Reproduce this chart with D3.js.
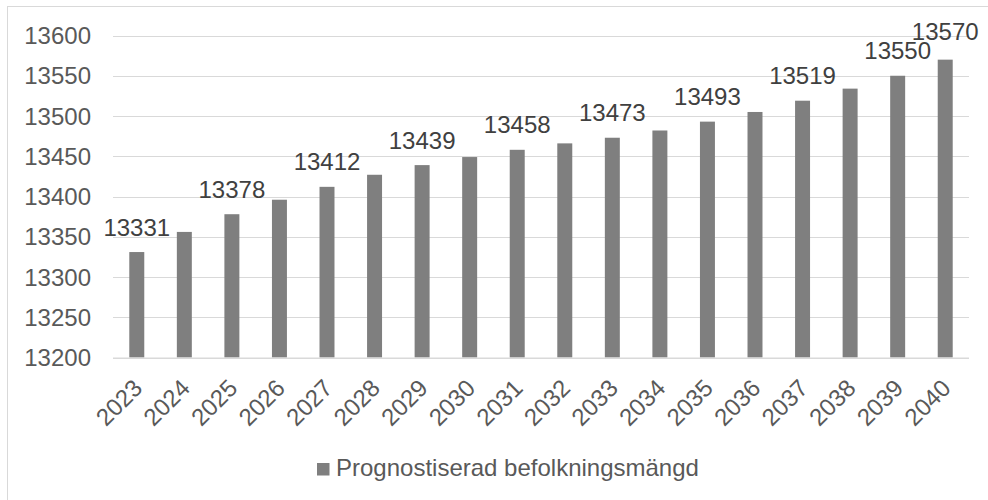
<!DOCTYPE html>
<html>
<head>
<meta charset="utf-8">
<script src="https://cdn.jsdelivr.net/npm/d3@7/dist/d3.min.js"></script>
<style>
  html, body { margin: 0; padding: 0; background: #fff; }
  svg { display: block; }
</style>
</head>
<body>
<svg id="chart" width="988" height="500"></svg>
<script>
const years = [2023, 2024, 2025, 2026, 2027, 2028, 2029, 2030, 2031, 2032, 2033, 2034, 2035, 2036, 2037, 2038, 2039, 2040];
const population = [13331, 13356, 13378, 13396, 13412, 13427, 13439, 13449, 13458, 13466, 13473, 13482, 13493, 13505, 13519, 13534, 13550, 13570];
const labeledYears = [2023, 2025, 2027, 2029, 2031, 2033, 2035, 2037, 2039, 2040];
const yTicks = [13200, 13250, 13300, 13350, 13400, 13450, 13500, 13550, 13600];
const seriesName = "Prognostiserad befolkningsmängd";

const svg = d3.select("#chart");
const font = "'Liberation Sans', Arial, sans-serif";
const fontSize = 24;

// outer chart border (cropped at right/bottom)
svg.append("rect")
  .attr("x", 7.5).attr("y", 6.5)
  .attr("width", 1000).attr("height", 1000)
  .attr("fill", "none").attr("stroke", "#d9d9d9").attr("stroke-width", 1);

const plot = { left: 113, right: 969, top: 35.5, bottom: 357.5 };

const x = d3.scaleBand()
  .domain(years)
  .range([plot.left, plot.right])
  .paddingInner(0.685)
  .paddingOuter(0.3425);

const y = d3.scaleLinear()
  .domain([13200, 13600])
  .range([plot.bottom, plot.top]);

// gridlines
svg.append("g")
  .selectAll("line")
  .data(yTicks)
  .join("line")
  .attr("x1", plot.left).attr("x2", plot.right)
  .attr("y1", d => Math.round(y(d)) + 0.5).attr("y2", d => Math.round(y(d)) + 0.5)
  .attr("stroke", "#d9d9d9").attr("stroke-width", 1);

// y axis
const yAxis = svg.append("g")
  .attr("transform", `translate(${plot.left},0)`)
  .call(d3.axisLeft(y).tickValues(yTicks).tickSize(0).tickPadding(22).tickFormat(d3.format("d")));
yAxis.select(".domain").remove();
yAxis.selectAll("text")
  .attr("font-family", font).attr("font-size", fontSize).attr("fill", "#595959")
  .attr("dy", "0.34em");

// bars
svg.append("g")
  .selectAll("rect")
  .data(years.map((yr, i) => ({ yr, v: population[i] })))
  .join("rect")
  .attr("x", d => x(d.yr))
  .attr("width", x.bandwidth())
  .attr("y", d => y(d.v))
  .attr("height", d => y(13200) - y(d.v))
  .attr("fill", "#7f7f7f");

// x axis
const xAxis = svg.append("g")
  .attr("transform", `translate(0,${plot.bottom})`)
  .call(d3.axisBottom(x).tickSize(0));
xAxis.select(".domain")
  .attr("stroke", "#d9d9d9").attr("d", `M${plot.left},0.5H${plot.right}`);
xAxis.selectAll("text")
  .attr("font-family", font).attr("font-size", fontSize).attr("fill", "#595959")
  .attr("x", 0).attr("y", 0).attr("dy", 0)
  .attr("text-anchor", "end")
  .attr("transform", "translate(7,32) rotate(-45)");

// data labels, with simple collision avoidance (shift up if overlapping previous label)
const labelData = years.map((yr, i) => ({ yr, v: population[i] }))
  .filter(d => labeledYears.includes(d.yr));
const labelW = 66, labelH = 19;
let prev = null;
labelData.forEach(d => {
  d.cx = x(d.yr) + x.bandwidth() / 2;
  d.by = y(d.v) - 16.5;
  if (prev && Math.abs(d.cx - prev.cx) < labelW && Math.abs(d.by - prev.by) < labelH) {
    d.by = prev.by - labelH;
  }
  prev = d;
});
svg.append("g")
  .selectAll("text")
  .data(labelData)
  .join("text")
  .attr("x", d => d.cx)
  .attr("y", d => d.by)
  .attr("text-anchor", "middle")
  .attr("font-family", font).attr("font-size", fontSize).attr("fill", "#404040")
  .text(d => d.v);

// legend
const legend = svg.append("g").attr("transform", "translate(317,463)");
legend.append("rect")
  .attr("x", 0).attr("y", 0).attr("width", 12.5).attr("height", 12.5)
  .attr("fill", "#7f7f7f");
legend.append("text")
  .attr("x", 19).attr("y", 12.5)
  .attr("font-family", font).attr("font-size", fontSize).attr("fill", "#595959")
  .text(seriesName);
</script>
</body>
</html>
